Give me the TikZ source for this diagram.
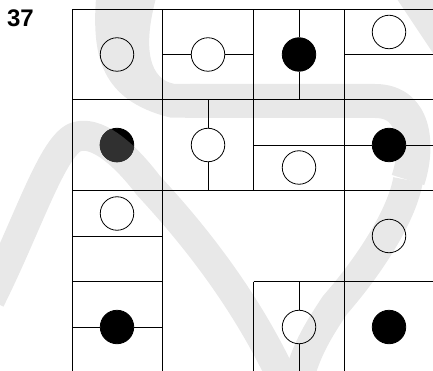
\documentclass[tikz,border=0pt]{standalone}
\usepackage{fontspec}
\usepackage{tikz}
\usetikzlibrary{positioning, calc}
\newfontfamily\numfont{Liberation Sans}
\definecolor{WMGray}{RGB}{232,232,232}
\definecolor{DotGray}{RGB}{48,48,48}

\begin{document}
\begin{tikzpicture}[x=1pt, y=-1pt,
  gridline/.style={line width=0.8pt, black},
  opendot/.style={circle, draw=black, line width=0.8pt, minimum size=33.5pt, inner sep=0pt},
  fulldot/.style={opendot, fill=black},
  wmband/.style={line width=30pt, WMGray, line cap=butt, line join=round},
  puzzlenum/.style={font=\numfont\bfseries\fontsize{24}{24}\selectfont, inner sep=0pt}
]
\useasboundingbox (0,0) rectangle (433,371);
\clip (0,0) rectangle (433,371);

% watermark in the background
\fill[WMGray] (96,-2) .. controls (92,55) and (100,100) .. (170,117.5) -- (200,118)
  -- (200,84) -- (175,84) .. controls (150,80) and (142,50) .. (156,-2) -- cycle;
\draw[wmband, line width=34pt] (190,101) -- (375,101) .. controls (418,101) and (418,150) .. (408,180);
\draw[wmband] (408,180) .. controls (402,215) and (370,265) .. (335,305)
  .. controls (315,335) and (300,360) .. (295,400);
\draw[wmband] (-10,300) .. controls (30,220) and (55,137) .. (80,136)
  .. controls (100,133) and (126,156) .. (148,185)
  .. controls (185,225) and (250,300) .. (292,400);
\draw[wmband] (409,-10) -- (449,50);

% number of the task
\node[puzzlenum] (num) at (20.5,18.5) {37};

% grid
\draw[gridline] (72,9.5) -- (440,9.5);
\draw[gridline] (72,99.5) -- (440,99.5);
\draw[gridline] (72,190.5) -- (440,190.5);
\draw[gridline] (72,281.5) -- (162.5,281.5);
\draw[gridline] (253.5,281.5) -- (440,281.5);
\draw[gridline] (72,9.5) -- (72,380);
\draw[gridline] (162.5,9.5) -- (162.5,380);
\draw[gridline] (253.5,9.5) -- (253.5,190.5);
\draw[gridline] (253.5,281.5) -- (253.5,380);
\draw[gridline] (344.5,9.5) -- (344.5,380);

% dots
\node[opendot] (c11) at (117,54.5) {};
\node[opendot] (c12) at (208,54.5) {};
\node[fulldot] (c13) at (299,54.5) {};
\node[opendot] (c14) at (389,32) {};
\node[fulldot] (c21) at (117,145) {};
\node[opendot] (c22) at (208,145) {};
\node[opendot] (c23) at (299,167.5) {};
\node[fulldot] (c24) at (389,145) {};
\node[opendot] (c31) at (117,213.5) {};
\node[opendot] (c34) at (389,236) {};
\node[fulldot] (c41) at (117,327) {};
\node[opendot] (c43) at (299,327) {};
\node[fulldot] (c44) at (389,327) {};

% dot shaded by the watermark
\begin{scope}
  \clip (c21.center) circle (17.3pt);
  \draw[wmband, DotGray] (-10,300) .. controls (30,220) and (55,137) .. (80,136)
    .. controls (100,133) and (126,156) .. (148,185)
    .. controls (185,225) and (250,300) .. (292,400);
\end{scope}

% splitting lines in the cells
\draw[gridline] (162.5,54.5) -- (c12) -- (253.5,54.5);
\draw[gridline] (299,9.5) -- (c13) -- (299,99.5);
\draw[gridline] (344.5,54.5) -- (440,54.5);
\draw[gridline] (208,99.5) -- (c22) -- (208,190.5);
\draw[gridline] (253.5,145) -- (344.5,145);
\draw[gridline] (344.5,145) -- (c24) -- (440,145);
\draw[gridline] (72,236) -- (162.5,236);
\draw[gridline] (72,327) -- (c41) -- (162.5,327);
\draw[gridline] (299,281.5) -- (c43) -- (299,380);

\end{tikzpicture}
\end{document}
